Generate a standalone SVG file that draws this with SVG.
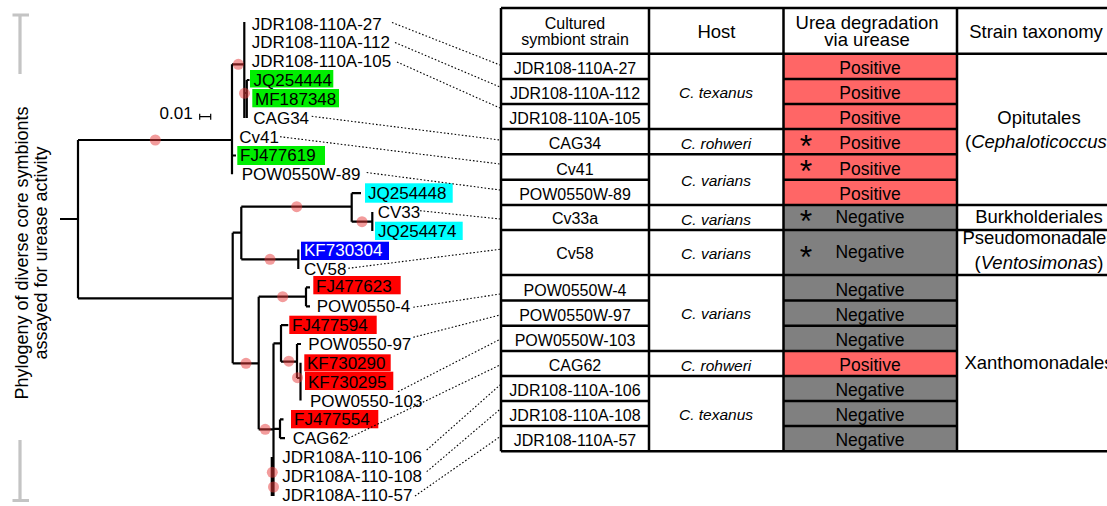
<svg xmlns="http://www.w3.org/2000/svg" width="1107" height="506" viewBox="0 0 1107 506">
<style>
text{font-family:"Liberation Sans",Arial,Helvetica,sans-serif;fill:#000}
.lf{font-size:17px}
.st{font-size:16px;text-anchor:middle}
.ho{font-size:15.5px;font-style:italic;text-anchor:middle}
.pn{font-size:17.5px;text-anchor:middle}
.hd{font-size:18.5px;text-anchor:middle}
.tx{font-size:18.5px;text-anchor:middle}
.ax{font-size:18px;text-anchor:middle}
.star{font-size:32px;text-anchor:middle}
.edge{fill:none;stroke:#000;stroke-width:2.2}
.dot{fill:#e83a3a;opacity:0.5}
.con{fill:none;stroke:#000;stroke-width:1.1;stroke-dasharray:1.6 2}
.grid{fill:none;stroke:#000;stroke-width:2.5}
.pos{fill:#ff6666}
.neg{fill:#808080}
.brk{fill:none;stroke:#c4c4c4;stroke-width:3.2}
</style>

<!-- side label -->
<g id="axis-label">
  <path class="brk" d="M20 15 V74 M12.5 15 H29 M20 440 V500.5 M12.5 500.5 H29"/>
  <text class="ax" transform="translate(28,253) rotate(-90)">Phylogeny of diverse core symbionts</text>
  <text class="ax" transform="translate(46.5,253) rotate(-90)">assayed for urease activity</text>
</g>

<!-- scale bar -->
<g id="scale">
  <text class="lf" x="159.5" y="119.3">0.01</text>
  <path d="M199.7 116.7 H210.7 M199.7 113.7 V119.7 M210.7 113.7 V119.7" fill="none" stroke="#000" stroke-width="1.2"/>
</g>

<!-- tree edges -->
<g id="tree-edges" class="edge">
  <path class="edge" d="M60 219 H78 M78 140 V298.3 M78 140 H232 M78 298.3 H232.7
  M232 64.3 V174.3 M232 64.3 H244.3 M244.3 22 V118 M244.3 93 H246.8 M246.8 80 V118 M246.8 80 H249.5 M232 155.5 H236
  M232.7 232.7 V363.3 M232.7 232.7 H241.3 M241.3 206.7 V259.3 M241.3 206.7 H351.7
  M351.7 193.2 V221.7 M351.7 193.2 H361 M351.7 221.7 H372.3 M372.3 212 V230.9
  M241.3 259.3 H298.3 M298.3 249.5 V269
  M232.7 363.3 H258.7 M258.7 296.7 V429.3 M258.7 296.7 H306 M306 287.4 V306.3 M306 287.4 H310 M306 306.3 H310
  M258.7 429.3 H273.5 M273.5 343.4 V496 M273.5 343.4 H281 M281 325.1 V361.7 M281 325.1 H288.3
  M281 361.7 H297 M297 344 V378 M297 344 H301 M297 378 H300.5 M300.5 362.8 V400.5
  M273.5 428.8 H280 M280 419.4 V438.2 M280 419.4 H283.5 M280 438.2 H285
  M271.8 457 V496"/>
</g>

<!-- node support dots -->
<g id="support-dots">
  <circle class="dot" cx="155.3" cy="140" r="5.5"/>
  <circle class="dot" cx="238.3" cy="64.3" r="5.5"/>
  <circle class="dot" cx="244.5" cy="93.3" r="5.5"/>
  <circle class="dot" cx="296.7" cy="206.7" r="5.5"/>
  <circle class="dot" cx="362" cy="221.7" r="5.5"/>
  <circle class="dot" cx="270" cy="259.3" r="5.5"/>
  <circle class="dot" cx="282.7" cy="296.7" r="5.5"/>
  <circle class="dot" cx="246" cy="363.3" r="5.5"/>
  <circle class="dot" cx="288.8" cy="361.2" r="5.5"/>
  <circle class="dot" cx="297.5" cy="377.7" r="5.5"/>
  <circle class="dot" cx="265.2" cy="429.3" r="5.5"/>
  <circle class="dot" cx="272.3" cy="472.3" r="5.5"/>
  <circle class="dot" cx="273.5" cy="487" r="5.5"/>
</g>

<!-- leaves -->
<g id="leaf-JDR108-110A-27"><text class="lf" x="251.7" y="29.5">JDR108-110A-27</text></g>
<g id="leaf-JDR108-110A-112"><text class="lf" x="251.7" y="48.35">JDR108-110A-112</text></g>
<g id="leaf-JDR108-110A-105"><text class="lf" x="251.7" y="67.2">JDR108-110A-105</text></g>
<g id="leaf-JQ254444"><rect x="250" y="70" width="83.3" height="17.5" fill="#00ee00"/><text class="lf" x="253.5" y="86.05">JQ254444</text></g>
<g id="leaf-MF187348"><rect x="252.3" y="89" width="86.7" height="18.3" fill="#00ee00"/><text class="lf" x="255" y="104.9">MF187348</text></g>
<g id="leaf-CAG34"><text class="lf" x="253.3" y="123.75">CAG34</text></g>
<g id="leaf-Cv41"><text class="lf" x="239.3" y="142.6">Cv41</text></g>
<g id="leaf-FJ477619"><rect x="237.3" y="146" width="87.7" height="19" fill="#00ee00"/><text class="lf" x="240" y="161.45">FJ477619</text></g>
<g id="leaf-POW0550W-89"><text class="lf" x="241.7" y="180.3">POW0550W-89</text></g>
<g id="leaf-JQ254448"><rect x="365" y="183.3" width="87.7" height="19.4" fill="#00ffff"/><text class="lf" x="368" y="199.15">JQ254448</text></g>
<g id="leaf-CV33"><text class="lf" x="377.7" y="218">CV33</text></g>
<g id="leaf-JQ254474"><rect x="375" y="221.7" width="87.7" height="18.3" fill="#00ffff"/><text class="lf" x="378" y="236.85">JQ254474</text></g>
<g id="leaf-KF730304"><rect x="301" y="241.7" width="88" height="18.3" fill="#0000ff"/><text class="lf" x="304" y="255.7" style="fill:#fff">KF730304</text></g>
<g id="leaf-CV58"><text class="lf" x="304" y="274.55">CV58</text></g>
<g id="leaf-FJ477623"><rect x="313.3" y="276" width="87.4" height="18.3" fill="#ff0000"/><text class="lf" x="316" y="291.5">FJ477623</text></g>
<g id="leaf-POW0550-4"><text class="lf" x="316.7" y="312.25">POW0550-4</text></g>
<g id="leaf-FJ477594"><rect x="289.3" y="315.7" width="87.4" height="18.3" fill="#ff0000"/><text class="lf" x="292" y="331.1">FJ477594</text></g>
<g id="leaf-POW0550-97"><text class="lf" x="308.3" y="349.95">POW0550-97</text></g>
<g id="leaf-KF730290"><rect x="304.3" y="354.3" width="86.4" height="17" fill="#ff0000"/><text class="lf" x="307" y="368.8">KF730290</text></g>
<g id="leaf-KF730295"><rect x="305" y="371.7" width="88.3" height="18.3" fill="#ff0000"/><text class="lf" x="308" y="387.65">KF730295</text></g>
<g id="leaf-POW0550-103"><text class="lf" x="310" y="406.5">POW0550-103</text></g>
<g id="leaf-FJ477554"><rect x="291" y="410" width="87.3" height="18.3" fill="#ff0000"/><text class="lf" x="294" y="425.35">FJ477554</text></g>
<g id="leaf-CAG62"><text class="lf" x="292.7" y="444.2">CAG62</text></g>
<g id="leaf-JDR108A-110-106"><text class="lf" x="282.3" y="463.05">JDR108A-110-106</text></g>
<g id="leaf-JDR108A-110-108"><text class="lf" x="282.3" y="481.9">JDR108A-110-108</text></g>
<g id="leaf-JDR108A-110-57"><text class="lf" x="282.3" y="500.75">JDR108A-110-57</text></g>

<!-- connectors -->
<g id="connectors" class="con">
  <path class="con" d="M392 22.5 L500 65"/>
  <path class="con" d="M395 42.5 L500 87"/>
  <path class="con" d="M397 62 L500 108"/>
  <path class="con" d="M311.7 116.3 L500 140"/>
  <path class="con" d="M280 136.7 L500 164"/>
  <path class="con" d="M366.7 172.5 L500 190"/>
  <path class="con" d="M420 210.7 L500 219"/>
  <path class="con" d="M348.3 268.3 L500 249.3"/>
  <path class="con" d="M413.3 307.3 L500 294"/>
  <path class="con" d="M413.3 337.3 L500 315"/>
  <path class="con" d="M398 391.7 L500 339.3"/>
  <path class="con" d="M348.3 438.3 L500 365"/>
  <path class="con" d="M426.7 450 L500 385"/>
  <path class="con" d="M426.7 471.7 L500 409.3"/>
  <path class="con" d="M415 496 L500 436.7"/>
</g>

<!-- table -->
<g id="table">
  <g id="table-fills">
    <rect class="pos" x="783.5" y="53.7" width="173.5" height="151.3"/>
    <rect class="neg" x="783.5" y="205" width="173.5" height="146"/>
    <rect class="pos" x="783.5" y="351" width="173.5" height="25"/>
    <rect class="neg" x="783.5" y="376" width="173.5" height="75.3"/>
  </g>
  <path class="grid" d="M501 8 H1121 M501 53.7 H1121 M501 451.3 H1121
  M501 8 V451.3 M649 8 V451.3 M783.5 8 V451.3 M957 8 V451.3
  M501 129 H957 M501 154.3 H957 M501 205 H1121 M501 230 H1121 M501 275 H1121 M501 351 H957 M501 376 H957
  M501 79 H649 M501 104 H649 M501 179.7 H649 M501 300.5 H649 M501 325.7 H649 M501 401 H649 M501 426 H649
  M783.5 79 H957 M783.5 104 H957 M783.5 179.7 H957 M783.5 300.5 H957 M783.5 325.7 H957 M783.5 401 H957 M783.5 426 H957"/>

  <g id="table-header">
    <text class="st" x="575" y="28.5">Cultured</text>
    <text class="st" x="575" y="45">symbiont strain</text>
    <text class="hd" x="716.5" y="38.3">Host</text>
    <text class="hd" x="867" y="28.5">Urea degradation</text>
    <text class="hd" x="867" y="46">via urease</text>
    <text class="hd" x="1036" y="37.7">Strain taxonomy</text>
  </g>

  <g id="row-JDR108-110A-27"><text class="st" x="575" y="74">JDR108-110A-27</text><text class="pn" x="870" y="74">Positive</text></g>
  <g id="row-JDR108-110A-112"><text class="st" x="575" y="99">JDR108-110A-112</text><text class="pn" x="870" y="99">Positive</text></g>
  <g id="row-JDR108-110A-105"><text class="st" x="575" y="124">JDR108-110A-105</text><text class="pn" x="870" y="124">Positive</text></g>
  <g id="row-CAG34"><text class="st" x="575" y="149">CAG34</text><text class="star" x="806" y="157">*</text><text class="pn" x="870" y="149">Positive</text></g>
  <g id="row-Cv41"><text class="st" x="575" y="174.5">Cv41</text><text class="star" x="806" y="182">*</text><text class="pn" x="870" y="174.5">Positive</text></g>
  <g id="row-POW0550W-89"><text class="st" x="575" y="199.5">POW0550W-89</text><text class="pn" x="870" y="199.5">Positive</text></g>
  <g id="row-Cv33a"><text class="st" x="575" y="224">Cv33a</text><text class="star" x="806" y="231.7">*</text><text class="pn" x="870" y="223">Negative</text></g>
  <g id="row-Cv58"><text class="st" x="575" y="258.5">Cv58</text><text class="star" x="806" y="268">*</text><text class="pn" x="870" y="257.5">Negative</text></g>
  <g id="row-POW0550W-4"><text class="st" x="575" y="295.5">POW0550W-4</text><text class="pn" x="870" y="295.5">Negative</text></g>
  <g id="row-POW0550W-97"><text class="st" x="575" y="320.5">POW0550W-97</text><text class="pn" x="870" y="320.5">Negative</text></g>
  <g id="row-POW0550W-103"><text class="st" x="575" y="346">POW0550W-103</text><text class="pn" x="870" y="346">Negative</text></g>
  <g id="row-CAG62"><text class="st" x="575" y="371">CAG62</text><text class="pn" x="870" y="371">Positive</text></g>
  <g id="row-JDR108-110A-106"><text class="st" x="575" y="396">JDR108-110A-106</text><text class="pn" x="870" y="396">Negative</text></g>
  <g id="row-JDR108-110A-108"><text class="st" x="575" y="421">JDR108-110A-108</text><text class="pn" x="870" y="421">Negative</text></g>
  <g id="row-JDR108-110A-57"><text class="st" x="575" y="446">JDR108-110A-57</text><text class="pn" x="870" y="446">Negative</text></g>

  <g id="hosts">
    <text class="ho" x="716" y="98.3">C. texanus</text>
    <text class="ho" x="716" y="149">C. rohweri</text>
    <text class="ho" x="716" y="186">C. varians</text>
    <text class="ho" x="716" y="225">C. varians</text>
    <text class="ho" x="716" y="258.5">C. varians</text>
    <text class="ho" x="716" y="319.3">C. varians</text>
    <text class="ho" x="716" y="370.7">C. rohweri</text>
    <text class="ho" x="716" y="420">C. texanus</text>
  </g>

  <g id="taxonomy">
    <text class="tx" x="1039" y="123.5">Opitutales</text>
    <text class="tx" x="1039" y="147.5">(<tspan font-style="italic">Cephaloticoccus</tspan>)</text>
    <text class="tx" x="1039" y="223">Burkholderiales</text>
    <text class="tx" x="1039" y="244">Pseudomonadales</text>
    <text class="tx" x="1039" y="268.5">(<tspan font-style="italic">Ventosimonas</tspan>)</text>
    <text class="tx" x="1039" y="369">Xanthomonadales</text>
  </g>
</g>
</svg>
